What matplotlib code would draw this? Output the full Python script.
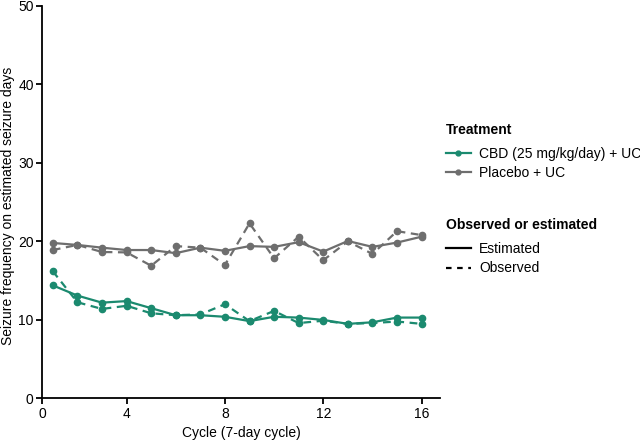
import matplotlib
matplotlib.use('Agg')
import matplotlib.pyplot as plt
from matplotlib.lines import Line2D

plt.rcParams['font.family'] = ['Liberation Sans', 'DejaVu Sans']

cycles = list(range(1, 17))

cbd_estimated = [14.4, 13.1, 12.2, 12.4, 11.5, 10.6, 10.6, 10.4, 9.85, 10.4, 10.3, 10.0, 9.5, 9.7, 10.3, 10.3]
cbd_observed = [16.2, 12.25, 11.4, 11.8, 10.85, 10.6, 10.7, 12.0, 9.85, 11.15, 9.6, 9.9, 9.5, 9.6, 9.8, 9.5]
placebo_estimated = [19.8, 19.55, 19.2, 18.9, 18.9, 18.5, 19.2, 18.8, 19.4, 19.3, 19.9, 18.7, 20.05, 19.3, 19.85, 20.6]
placebo_observed = [18.9, 19.55, 18.65, 18.6, 16.9, 19.4, 19.2, 17.0, 22.3, 17.85, 20.6, 17.6, 20.0, 18.4, 21.3, 20.8]

x_ticks = [4, 8, 12, 16]
y_ticks = [0, 10, 20, 30, 40, 50]

green = '#1b8a6f'
grey = '#6e6e6e'

fig = plt.figure(figsize=(6.4, 4.43), dpi=100)
ax = fig.add_axes([0.0656, 0.1005, 0.622, 0.8865])

for est, obs, color in [(cbd_estimated, cbd_observed, green),
                        (placebo_estimated, placebo_observed, grey)]:
    ax.plot(cycles, est, color=color, lw=1.6, marker='o', ms=4.5, zorder=3)
    ax.plot(cycles, obs, color=color, lw=1.6, ls=(0, (3.5, 2.5)), marker='o', ms=4.5, zorder=3)

x_left = 0.56
ax.set_xlim(x_left, 16.75)
ax.set_ylim(0, 50)
ax.set_xticks([x_left] + x_ticks)
ax.set_xticklabels(['0'] + [str(t) for t in x_ticks])
ax.set_yticks(y_ticks)
ax.tick_params(direction='out', length=4, width=1.3, labelsize=10, pad=2)
for side in ['top', 'right']:
    ax.spines[side].set_visible(False)
for side in ['left', 'bottom']:
    ax.spines[side].set_linewidth(1.3)

ax.set_xlabel('Cycle (7-day cycle)', fontsize=10, labelpad=4)
ax.set_ylabel('Seizure frequency on estimated seizure days', fontsize=10)
ax.yaxis.set_label_coords(-0.068, 0.49)


def add_legend(handles, labels, title, top):
    leg = fig.legend(handles, labels, title=title, loc='upper left', bbox_to_anchor=(0.688, top),
                     frameon=False, fontsize=10, title_fontsize=10, alignment='left',
                     handlelength=1.8, handletextpad=0.6, labelspacing=0.4, borderaxespad=0)
    leg.get_title().set_fontweight('bold')
    # a bit more room under the bold title, as in the reference
    leg._legend_box.sep += 3
    return leg


treat_handles = [
    Line2D([], [], color=green, lw=1.6, marker='o', ms=3.5),
    Line2D([], [], color=grey, lw=1.6, marker='o', ms=3.5),
]
add_legend(treat_handles, ['CBD (25 mg/kg/day) + UC', 'Placebo + UC'], 'Treatment', 0.735)

style_handles = [
    Line2D([], [], color='black', lw=1.6),
    Line2D([], [], color='black', lw=1.6, ls=(0, (2.5, 2.5))),
]
add_legend(style_handles, ['Estimated', 'Observed'], 'Observed or estimated', 0.52)

fig.savefig('out.png', dpi=100)
